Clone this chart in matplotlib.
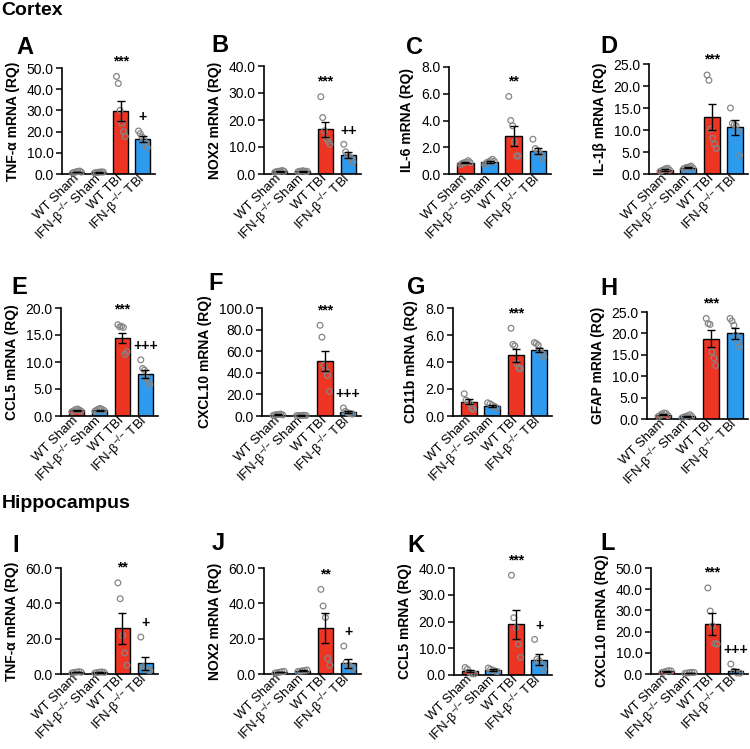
import numpy as np
import matplotlib.pyplot as plt

plt.rcParams['font.family'] = ['Liberation Sans', 'DejaVu Sans']
plt.rcParams['mathtext.fontset'] = 'custom'
plt.rcParams['mathtext.rm'] = 'Liberation Sans'
plt.rcParams['mathtext.it'] = 'Liberation Sans:italic'
plt.rcParams['mathtext.bf'] = 'Liberation Sans:bold'

groups = ['WT Sham', 'IFN-β$^{{-}/{-}}$ Sham', 'WT TBI', 'IFN-β$^{{-}/{-}}$ TBI']

# --- Cortex ---
tnf_ctx_mean = [1.0, 0.8, 29.7, 16.5]
tnf_ctx_sem = [0.15, 0.1, 4.9, 1.2]
tnf_ctx_pts = [[0.5, 0.8, 1.0, 1.2, 1.4, 0.9], [0.5, 0.7, 0.8, 0.9, 1.0, 0.9],
               [46.0, 42.7, 30.0, 24.0, 20.0, 17.7], [20.3, 19.0, 17.5, 16.0, 14.5, 12.5]]

nox2_ctx_mean = [1.0, 1.0, 16.5, 7.0]
nox2_ctx_sem = [0.15, 0.15, 2.8, 1.2]
nox2_ctx_pts = [[0.7, 0.9, 1.0, 1.1, 1.3, 1.0], [0.8, 1.0, 1.1, 1.2, 0.9, 1.0],
                [28.6, 20.9, 16.0, 13.0, 12.0, 11.0], [11.0, 8.2, 7.0, 6.4, 5.8, 4.5]]

il6_ctx_mean = [0.85, 0.92, 2.84, 1.75]
il6_ctx_sem = [0.05, 0.07, 0.75, 0.22]
il6_ctx_pts = [[0.7, 0.8, 0.85, 0.9, 1.0, 0.85], [0.7, 0.85, 0.9, 1.0, 1.1, 0.95],
               [5.8, 4.0, 3.6, 2.4, 1.35, 1.35], [2.6, 1.9, 1.75, 1.5, 1.2]]

il1b_ctx_mean = [0.9, 1.45, 12.9, 10.6]
il1b_ctx_sem = [0.15, 0.15, 3.0, 1.7]
il1b_ctx_pts = [[0.6, 0.8, 1.0, 1.2, 1.3, 0.9], [1.2, 1.4, 1.5, 1.6, 1.8, 1.3],
                [22.5, 21.3, 10.2, 8.1, 6.8, 5.8], [15.0, 11.5, 11.2, 11.0, 9.8, 4.2]]

ccl5_ctx_mean = [1.05, 1.1, 14.4, 7.8]
ccl5_ctx_sem = [0.1, 0.1, 0.9, 0.75]
ccl5_ctx_pts = [[0.8, 1.0, 1.2, 1.3, 1.1, 0.9], [0.9, 1.1, 1.3, 1.4, 1.2, 1.0],
                [16.9, 16.5, 16.6, 16.4, 11.4, 11.9], [10.4, 8.8, 8.5, 7.0, 6.3, 5.8]]

cxcl10_ctx_mean = [1.2, 0.5, 51.0, 3.5]
cxcl10_ctx_sem = [0.2, 0.1, 9.0, 1.0]
cxcl10_ctx_pts = [[0.6, 1.0, 1.3, 1.5, 1.8, 1.0], [0.3, 0.4, 0.5, 0.6, 0.7, 0.5],
                  [84.0, 73.0, 47.0, 42.0, 37.6, 22.8], [7.4, 4.3, 3.2, 2.5, 2.0, 1.8]]

cd11b_ctx_mean = [1.06, 0.76, 4.5, 4.88]
cd11b_ctx_sem = [0.18, 0.06, 0.5, 0.17]
cd11b_ctx_pts = [[1.65, 1.18, 1.06, 0.94, 0.57, 0.5], [0.98, 0.9, 0.8, 0.7, 0.6],
                 [6.5, 5.3, 5.2, 3.9, 3.55, 3.5], [5.44, 5.37, 5.25, 4.88, 4.63, 4.38]]

gfap_ctx_mean = [1.0, 0.6, 18.8, 20.0]
gfap_ctx_sem = [0.15, 0.1, 1.9, 1.3]
gfap_ctx_pts = [[0.6, 0.9, 1.2, 1.4, 1.3, 0.8], [0.3, 0.5, 0.6, 0.8, 1.0, 0.6],
                [23.5, 22.3, 22.1, 15.7, 14.2, 12.5], [23.5, 22.9, 21.9, 19.6, 17.9, 16.9]]

# --- Hippocampus ---
tnf_hip_mean = [1.0, 0.9, 25.9, 6.0]
tnf_hip_sem = [0.15, 0.15, 8.9, 3.7]
tnf_hip_pts = [[0.6, 0.9, 1.1, 1.3, 1.0], [0.5, 0.8, 1.0, 1.2, 0.9],
               [51.6, 42.6, 21.8, 11.9, 5.0], [20.9, 4.1, 3.2, 2.2, 1.9]]

nox2_hip_mean = [1.0, 1.8, 25.9, 6.0]
nox2_hip_sem = [0.15, 0.2, 8.5, 2.4]
nox2_hip_pts = [[0.5, 0.8, 1.0, 1.3, 1.5], [1.4, 1.6, 1.8, 2.0, 2.3],
                [47.9, 38.5, 32.0, 8.8, 5.0], [15.8, 6.5, 5.0, 4.1, 3.2]]

ccl5_hip_mean = [1.36, 1.86, 18.9, 5.7]
ccl5_hip_sem = [0.35, 0.2, 5.5, 2.1]
ccl5_hip_pts = [[2.8, 2.2, 1.0, 0.5, 0.4], [2.6, 2.2, 1.8, 1.5, 1.3],
                [37.3, 21.4, 17.7, 11.5, 6.6], [13.3, 5.9, 5.3, 4.1, 2.2]]

cxcl10_hip_mean = [1.2, 0.6, 23.8, 1.25]
cxcl10_hip_sem = [0.2, 0.1, 5.2, 1.0]
cxcl10_hip_pts = [[0.7, 1.0, 1.3, 1.6, 1.4], [0.3, 0.5, 0.6, 0.8, 0.7],
                  [40.6, 29.7, 22.7, 14.4, 14.1], [4.7, 1.3, 0.5, 0.4]]

RED = '#EE3523'
BLUE = '#2F9BEF'
bar_colors = [RED, BLUE, RED, BLUE]

W, H = 750, 749
fig = plt.figure(figsize=(W / 100, H / 100), dpi=100)


def panel(box, letter, lpos, means, sems, pts, ymax, ystep, ylabel, marks):
    l, t, r, b = box
    ax = fig.add_axes([l / W, 1 - b / H, (r - l) / W, (b - t) / H])
    x = np.arange(4)
    ax.bar(x, means, width=0.68, color=bar_colors, edgecolor='black',
           linewidth=1.0, zorder=2)
    for i, p in enumerate(pts):
        off = np.linspace(-0.2, 0.2, len(p))
        ax.scatter(i + off, p, s=17, facecolors='none', edgecolors='#858585',
                   linewidths=0.9, zorder=3, clip_on=False)
    ax.errorbar(x, means, yerr=sems, fmt='none', ecolor='black',
                elinewidth=1.0, capsize=3, capthick=1.0, zorder=4)
    for i, m in zip([2, 3], marks):
        if m:
            top = max(max(pts[i]), means[i] + sems[i])
            off = 8 if '*' in m else 7
            ax.annotate(m, (i, top), xytext=(0, off), textcoords='offset points',
                        ha='center', va='baseline', fontsize=10, weight='bold')
    ax.set_xlim(-0.68, 3.55)
    ax.set_ylim(0, ymax)
    ticks = np.arange(0, ymax + ystep / 2, ystep)
    ax.set_yticks(ticks)
    ax.set_yticklabels(['%.1f' % v for v in ticks])
    ax.set_xticks(x)
    ax.set_xticklabels(groups, rotation=45, ha='right', va='center',
                       rotation_mode='anchor')
    ax.tick_params(axis='y', length=4, width=1.1, labelsize=10, pad=2)
    ax.tick_params(axis='x', length=0, labelsize=9.5, pad=2)
    ax.set_ylabel(ylabel, fontsize=10, weight='bold', labelpad=5)
    for s in ['top', 'right']:
        ax.spines[s].set_visible(False)
    for s in ['left', 'bottom']:
        ax.spines[s].set_linewidth(1.2)
    fig.text(lpos[0] / W, 1 - lpos[1] / H, letter, fontsize=17, weight='bold',
             va='top', ha='left')
    return ax


fig.text(0.002, 1 - 2 / H, 'Cortex', fontsize=14, weight='bold', va='top')
fig.text(0.002, 1 - 495 / H, 'Hippocampus', fontsize=14, weight='bold', va='top')

panel((62, 68, 155, 174), 'A', (16, 36), tnf_ctx_mean, tnf_ctx_sem, tnf_ctx_pts,
      50, 10, 'TNF-α mRNA (RQ)', ['***', '+'])
panel((264, 66, 361, 174), 'B', (211, 34), nox2_ctx_mean, nox2_ctx_sem, nox2_ctx_pts,
      40, 10, 'NOX2 mRNA (RQ)', ['***', '++'])
panel((449, 67, 551, 174), 'C', (406, 36), il6_ctx_mean, il6_ctx_sem, il6_ctx_pts,
      8, 2, 'IL-6 mRNA (RQ)', ['**', ''])
panel((649, 64, 748, 174), 'D', (600, 35), il1b_ctx_mean, il1b_ctx_sem, il1b_ctx_pts,
      25, 5, 'IL-1β mRNA (RQ)', ['***', ''])

panel((61, 308, 158, 416), 'E', (11, 276), ccl5_ctx_mean, ccl5_ctx_sem, ccl5_ctx_pts,
      20, 5, 'CCL5 mRNA (RQ)', ['***', '+++'])
panel((262, 308, 361, 416), 'F', (208, 272), cxcl10_ctx_mean, cxcl10_ctx_sem, cxcl10_ctx_pts,
      100, 20, 'CXCL10 mRNA (RQ)', ['***', '+++'])
panel((453, 308, 552, 416), 'G', (407, 276), cd11b_ctx_mean, cd11b_ctx_sem, cd11b_ctx_pts,
      8, 2, 'CD11b mRNA (RQ)', ['***', ''])
panel((647, 312, 748, 419), 'H', (600, 277), gfap_ctx_mean, gfap_ctx_sem, gfap_ctx_pts,
      25, 5, 'GFAP mRNA (RQ)', ['***', ''])

panel((61, 568, 158, 674), 'I', (12, 534), tnf_hip_mean, tnf_hip_sem, tnf_hip_pts,
      60, 20, 'TNF-α mRNA (RQ)', ['**', '+'])
panel((264, 568, 361, 674), 'J', (212, 532), nox2_hip_mean, nox2_hip_sem, nox2_hip_pts,
      60, 20, 'NOX2 mRNA (RQ)', ['**', '+'])
panel((454, 568, 552, 675), 'K', (407, 534), ccl5_hip_mean, ccl5_hip_sem, ccl5_hip_pts,
      40, 10, 'CCL5 mRNA (RQ)', ['***', '+'])
panel((651, 568, 748, 674), 'L', (600, 532), cxcl10_hip_mean, cxcl10_hip_sem, cxcl10_hip_pts,
      50, 10, 'CXCL10 mRNA (RQ)', ['***', '+++'])

fig.savefig('out.png', dpi=100)
